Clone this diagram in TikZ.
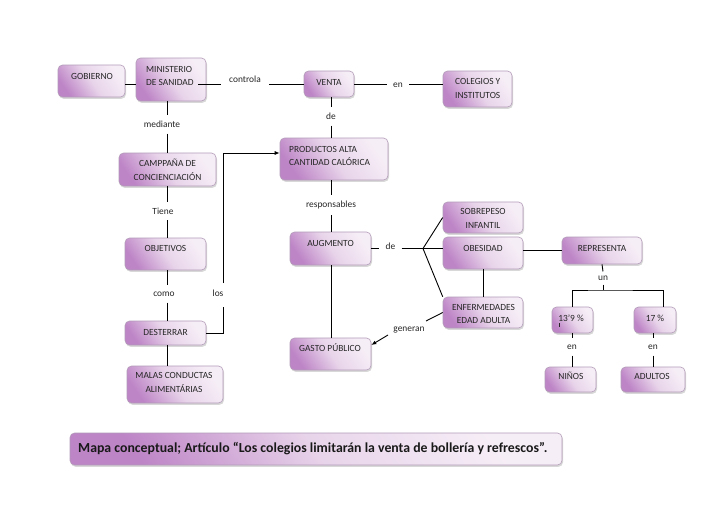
\documentclass[tikz,border=0pt]{standalone}
\usepackage{fontspec}
\setmainfont{Carlito}
\usetikzlibrary{shadows,calc,arrows.meta}
\definecolor{cdark}{HTML}{BD84C6}
\definecolor{cmid}{HTML}{E8D4EA}
\definecolor{clight}{HTML}{F6EEF7}
\definecolor{cborder}{HTML}{B29BB8}
\definecolor{ctxt}{HTML}{262626}
\tikzset{
  cbox/.style={draw=cborder, line width=0.6pt, rounded corners=4.5pt,
    left color=cdark, right color=clight, middle color=cmid, shading angle=125,
    drop shadow={shadow xshift=1pt, shadow yshift=-1.8pt, opacity=0.25, fill=black!60},
    inner sep=0pt},
  ctext/.style={font=\fontsize{9.4}{13.5}\selectfont, text=ctxt, inner sep=0pt},
  lab/.style={font=\fontsize{9.4}{12}\selectfont, text=ctxt, inner xsep=8pt, inner ysep=6pt},
  conn/.style={draw=black, line width=0.9pt},
  titletext/.style={font=\fontsize{13.8}{16}\selectfont\bfseries, text=black!90, inner sep=0pt}
}
\newcommand\cmbox[9][center]{%
  \node[cbox, minimum width=#5pt, minimum height=#6pt] (#2) at (#3,#4) {};
  \node[ctext, align=#1, anchor=#7] (#2-t) at (#8) {#9};}
\begin{document}
\begin{tikzpicture}[x=1pt,y=-1pt]
\useasboundingbox[fill=white] (0,0) rectangle (728,515);
% boxes: name, cx, cy, w, h, text anchor, text pos, text
\cmbox{gob}{91.5}{81}{67}{32}{center}{92,76}{GOBIERNO}
\cmbox[left]{min}{171}{79.5}{70}{43}{west}{146,76}{MINISTERIO\\DE SANIDAD}
\cmbox{venta}{329}{84}{50}{26}{center}{329,82}{VENTA}
\cmbox[left]{cole}{477.5}{89}{69}{36}{west}{455,88.5}{COLEGIOS Y\\INSTITUTOS}
\cmbox[left]{prod}{334}{159}{108}{42}{west}{289,156}{PRODUCTOS ALTA\\CANTIDAD CALÓRICA}
\cmbox{camp}{167.5}{169.5}{97}{33}{center}{167.5,170}{CAMPPAÑA DE\\CONCIENCIACIÓN}
\cmbox{obj}{165.5}{254}{81}{32}{center}{165.5,248}{OBJETIVOS}
\cmbox{dest}{165.5}{333}{81}{24}{center}{165.5,332}{DESTERRAR}
\cmbox{malas}{175}{384.5}{96}{37}{center}{174,382.5}{MALAS CONDUCTAS\\ALIMENTÁRIAS}
\cmbox{aug}{330.5}{248.5}{81}{33}{center}{330.5,243}{AUGMENTO}
\cmbox{gasto}{330.5}{354}{81}{32}{center}{330,348}{GASTO PÚBLICO}
\cmbox{sobre}{483}{217.5}{80}{31}{center}{483,218.5}{SOBREPESO\\INFANTIL}
\cmbox{obes}{483}{253}{80}{32}{center}{483,248}{OBESIDAD}
\cmbox{enf}{483}{312.5}{80}{31}{center}{483.5,314}{ENFERMEDADES\\EDAD ADULTA}
\cmbox{rep}{602}{250.5}{80}{27}{center}{602,248}{REPRESENTA}
\cmbox{p139}{572.5}{320}{41}{26}{center}{571,318}{13'9 \%}
\cmbox{p17}{655}{320}{42}{26}{center}{655,318}{17 \%}
\cmbox{ninos}{570.5}{379.5}{51}{25}{center}{571,376}{NIÑOS}
\cmbox{adultos}{653}{379.5}{64}{25}{center}{652,376}{ADULTOS}
% title
\node[cbox, minimum width=492pt, minimum height=32pt] (title) at (316,449) {};
\node[titletext, anchor=west] (title-t) at (78,449) {Mapa conceptual; Artículo “Los colegios limitarán la venta de bollería y refrescos”.};
% labels
\node[lab] (controla) at (245,79) {controla};
\node[lab, inner xsep=6pt] (en1) at (398,85) {en};
\node[lab] (de1) at (331,116) {de};
\node[lab] (resp) at (331,205) {responsables};
\node[lab] (mediante) at (162,124) {mediante};
\node[lab] (tiene) at (163,211) {Tiene};
\node[lab] (como) at (164,294) {como};
\node[lab, inner sep=0pt] (los) at (218,293) {los};
\node[lab, inner xsep=6pt] (de2) at (390.5,246) {de};
\node[lab, inner sep=0pt] (generan) at (409,330) {generan};
\node[lab, inner ysep=4pt] (un) at (603,278) {un};
\node[lab] (en2) at (572,347) {en};
\node[lab] (en3) at (653,347) {en};
% coordinates
\coordinate (losA) at (223,307);
\coordinate (losB) at (223,283);
\coordinate (br) at (423,248.5);
\coordinate (unb) at (603,290);
\coordinate (g1) at (426,321);
\coordinate (g2) at (388,335);
% connectors
\draw[conn] (gob.east |- venta) -- (min.west |- venta);
\draw[conn] ($(min.east |- venta)+(-8,0)$) -- (controla.west |- venta);
\draw[conn] (controla.east |- venta) -- (venta.west);
\draw[conn] (venta.east) -- (en1.west |- venta);
\draw[conn] (en1.east |- venta) -- (cole.west |- venta);
\draw[conn] (venta.south -| de1) -- (de1.north);
\draw[conn] (de1.south) -- (prod.north -| de1);
\draw[conn] (prod.south -| resp) -- (resp.north);
\draw[conn] (resp.south) -- (aug.north -| resp);
\draw[conn] (min.south -| camp) -- (mediante.north -| camp);
\draw[conn] (mediante.south -| camp) -- (camp.north);
\draw[conn] (camp.south) -- (tiene.north -| camp);
\draw[conn] (tiene.south -| camp) -- (obj.north -| camp);
\draw[conn] (obj.south -| camp) -- (como.north -| camp);
\draw[conn] (como.south -| camp) -- (dest.north -| camp);
\draw[conn] (dest.south -| camp) -- (malas.north -| camp);
\draw[conn] (dest.east) -| (losA);
\draw[conn, -{Latex[length=5pt,width=4pt]}] (losB) |- ($(prod.west)+(0,-6)$);
\draw[conn] (aug.south -| resp) -- (gasto.north -| resp);
\draw[conn] (aug.east) -- (de2.west |- aug);
\draw[conn] (de2.east |- aug) -- (br);
\draw[conn] (br) -- (sobre.west);
\draw[conn] (br) -- (obes.west |- br);
\draw[conn] (br) -- (enf.north west);
\draw[conn] (obes.south) -- (enf.north);
\draw[conn] (obes.east |- rep) -- (rep.west);
\draw[conn] (rep.south) -- (un.north);
\draw[conn] (un.south) -- (unb);
\draw[conn] (p139.north) |- (unb) -| ($(p17.north)+(8,0)$);
\draw[conn] (p139.south) -- (en2.north -| p139);
\draw[conn] (en2.south -| p139) -- (ninos.north -| p139);
\draw[conn] (p17.south -| en3) -- (en3.north);
\draw[conn] (en3.south) -- (adultos.north -| en3);
\draw[conn] (enf.west) -- (g1);
\draw[conn, -{Latex[length=5pt,width=4pt]}] (g2) -- ($(gasto.east)+(0,-9)$);
% small cursor mark
\draw[line width=0.7pt, ctxt] ($(p139.south west)+(8,-10)$) -- ($(p139.south west)+(8,-6)$);
\end{tikzpicture}
\end{document}
